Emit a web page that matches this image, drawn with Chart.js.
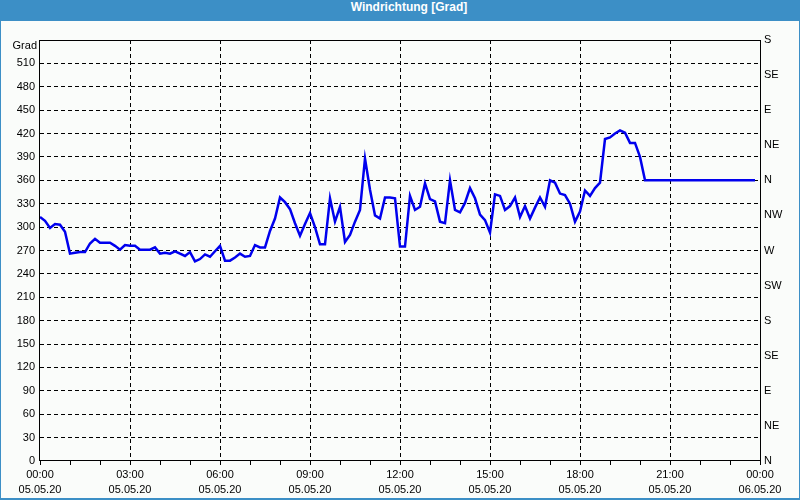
<!DOCTYPE html>
<html>
<head>
<meta charset="utf-8">
<script src="https://cdn.jsdelivr.net/npm/chart.js@4/dist/chart.umd.min.js"></script>
<style>
  html, body { margin: 0; padding: 0; }
  #win { position: relative; width: 800px; height: 500px; background: #3c8fc6; overflow: hidden; }
  #title { position: absolute; left: 0; top: 0; width: 800px; height: 21px; line-height: 21px;
           color: #fff; font: bold 12px "Liberation Sans", Arial, sans-serif; text-align: center;
           box-sizing: border-box; padding-left: 18px; }
  #c { position: absolute; left: 1px; top: 21px; background: #fafcfa; }
</style>
</head>
<body>
<div id="win">
  <div id="title">Windrichtung [Grad]</div>
  <canvas id="c" width="798" height="477"></canvas>
</div>
<script>
// Wind direction in degrees, one reading every 10 minutes, 05.05.20 00:00 - 23:50
const INTERVAL_MIN = 10;
const values = [
  313, 308, 299, 304, 303, 294, 266, 267, 268, 268,
  279, 285, 280, 280, 280, 276, 271, 277, 276, 276,
  271, 271, 271, 274, 266, 267, 266, 269, 266, 263,
  268, 256, 259, 265, 262, 269, 276, 257, 257, 261,
  266, 262, 263, 277, 274, 274, 295, 311, 338, 332,
  323, 305, 289, 304, 318, 300, 278, 278, 337, 307,
  326, 281, 290, 307, 322, 388, 348, 315, 311, 338,
  338, 337, 275, 275, 340, 322, 326, 356, 336, 333,
  307, 305, 360, 322, 319, 331, 350, 337, 316, 309,
  293, 342, 340, 322, 327, 338, 313, 327, 311, 325,
  338, 326, 360, 357, 343, 341, 330, 307, 320, 347,
  340, 350, 357, 413, 415, 420, 424, 421, 408, 408,
  390, 360, 360, 360, 360, 360, 360, 360, 360, 360,
  360, 360, 360, 360, 360, 360, 360, 360, 360, 360,
  360, 360, 360, 360
];
const timeLabels = ['00:00', '03:00', '06:00', '09:00', '12:00', '15:00', '18:00', '21:00', '00:00'];
const dateLabels = ['05.05.20', '05.05.20', '05.05.20', '05.05.20', '05.05.20', '05.05.20', '05.05.20', '05.05.20', '06.05.20'];
const compassLabels = ['N', 'NE', 'E', 'SE', 'S', 'SW', 'W', 'NW', 'N', 'NE', 'E', 'SE', 'S'];
const yAxisTitle = 'Grad';

const points = values.map((v, i) => ({ x: i * INTERVAL_MIN, y: v }));
const FONT = { family: '"Liberation Sans", Arial, sans-serif', size: 11 };

const framePlugin = {
  id: 'frame',
  beforeDatasetsDraw(chart) {
    const a = chart.chartArea, ctx = chart.ctx;
    ctx.save();
    ctx.strokeStyle = '#000';
    ctx.lineWidth = 1;
    ctx.setLineDash([]);
    ctx.strokeRect(Math.round(a.left) - 0.5, Math.round(a.top) + 0.5,
                   Math.round(a.right - a.left) + 1, Math.round(a.bottom - a.top) - 1);
    ctx.fillStyle = '#000';
    ctx.font = '11px "Liberation Sans", Arial, sans-serif';
    ctx.textAlign = 'right';
    ctx.textBaseline = 'middle';
    ctx.fillText(yAxisTitle, a.left - 3, a.top + 6);
    ctx.restore();
  }
};

new Chart(document.getElementById('c'), {
  type: 'line',
  data: {
    datasets: [{
      data: points,
      borderColor: '#0000ee',
      borderWidth: 2.5,
      pointRadius: 0,
      tension: 0,
      fill: false
    }]
  },
  options: {
    responsive: false,
    animation: false,
    devicePixelRatio: 1,
    layout: { padding: { top: 19, left: 0, right: 0, bottom: 0 } },
    plugins: { legend: { display: false }, tooltip: { enabled: false }, title: { display: false } },
    scales: {
      x: {
        type: 'linear',
        min: 0, max: 1440,
        afterFit(s) { s.height = 37; },
        ticks: {
          stepSize: 60,
          autoSkip: false,
          maxRotation: 0,
          padding: 2,
          color: '#000',
          font: { ...FONT, lineHeight: '15px' },
          callback: (v) => (v % 180 === 0) ? [timeLabels[v / 180], dateLabels[v / 180]] : ''
        },
        grid: {
          color: (ctx) => (ctx.tick && ctx.tick.value % 180 === 0 && ctx.tick.value > 0 && ctx.tick.value < 1440) ? '#000' : 'rgba(0,0,0,0)',
          lineWidth: 1,
          drawTicks: true,
          tickLength: 4,
          tickColor: '#000',
          tickBorderDash: [],
          tickWidth: 1
        },
        border: { display: false, dash: [4, 3] }
      },
      y: {
        position: 'left',
        min: 0, max: 540,
        afterFit(s) { s.width = 39; },
        ticks: {
          stepSize: 30,
          padding: 5,
          color: '#000',
          font: FONT,
          callback: (v) => v === 540 ? '' : String(v)
        },
        grid: {
          color: (ctx) => (ctx.tick && ctx.tick.value > 0 && ctx.tick.value < 540) ? '#000' : 'rgba(0,0,0,0)',
          lineWidth: 1,
          drawTicks: false
        },
        border: { display: false, dash: [4, 3] }
      },
      y2: {
        position: 'right',
        min: 0, max: 540,
        afterFit(s) { s.width = 39; },
        ticks: {
          stepSize: 45,
          padding: 4,
          color: '#000',
          font: FONT,
          callback: (v) => compassLabels[Math.round(v / 45)]
        },
        grid: { display: false, drawTicks: false, drawOnChartArea: false },
        border: { display: false }
      }
    }
  },
  plugins: [framePlugin]
});
</script>
</body>
</html>
